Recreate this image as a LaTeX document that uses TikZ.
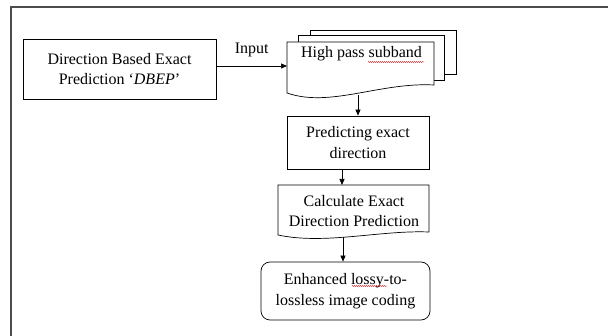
\documentclass[tikz,border=0pt]{standalone}
\usepackage{fontspec}
\setmainfont{Liberation Serif}
\usetikzlibrary{arrows.meta,decorations.pathmorphing}

\begin{document}
\begin{tikzpicture}[
  x=1pt, y=-1pt,
  block/.style={rectangle, draw, line width=0.7pt, align=center},
  page/.style={draw, fill=white, line width=0.7pt},
  flow/.style={-{Triangle[length=6pt,width=5pt]}, line width=0.7pt},
  squiggle/.style={red!80!black, line width=0.35pt, decorate,
    decoration={snake, amplitude=0.6pt, segment length=2pt}},
  font=\fontsize{16}{20.5}\selectfont
]
\useasboundingbox (0,0) rectangle (608,336);

% Outer frame
\draw[gray!60!black, line width=1.8pt] (11,336) -- (11,7) -- (608,7);

% Source block
\node[block, minimum width=193pt, minimum height=60pt] (dbep) at (119.5,69)
  {Direction Based Exact\\Prediction `\textit{DBEP}'};

% High pass subband (stacked documents)
\draw[page] (310,30) rectangle (456,74);
\draw[page] (298,35) rectangle (444,80);
\draw[page] (287,42) -- (434,42) -- (434,85)
  .. controls (380,82) and (330,108) .. (287,93) -- cycle;
\node (hps) at (361.5,54) {High pass subband};
\draw[squiggle] (368,62) -- (424,62);
\coordinate (hpsin) at (287,66);
\coordinate (hpsbot) at (358,95.5);

% Input arrow
\draw[flow] (dbep.east |- hpsin) -- node[above=5pt] (input) {Input} (hpsin);

% Predicting exact direction
\node[block, minimum width=142pt, minimum height=53pt] (pred) at (358,142.5)
  {Predicting exact\\direction};
\draw[flow] (hpsbot) -- (hpsbot |- pred.north);

% Calculate exact direction prediction (document)
\draw[page] (278,185) -- (429,185) -- (429,232)
  .. controls (380,230) and (325,245) .. (278,235) -- cycle;
\node[align=center] (calc) at (354,211) {Calculate Exact\\Direction Prediction};
\coordinate (calctop) at (342,185);
\coordinate (calcbot) at (343,237.5);
\draw[flow] (pred.south -| calctop) -- (calctop);

% Enhanced coding
\node[block, rounded corners=9pt, minimum width=169pt, minimum height=58pt]
  (coding) at (345.5,291) {Enhanced lossy-to-\\lossless image coding};
\draw[squiggle] (352,286) -- (387,286);
\draw[flow] (calcbot) -- (calcbot |- coding.north);

\end{tikzpicture}
\end{document}
